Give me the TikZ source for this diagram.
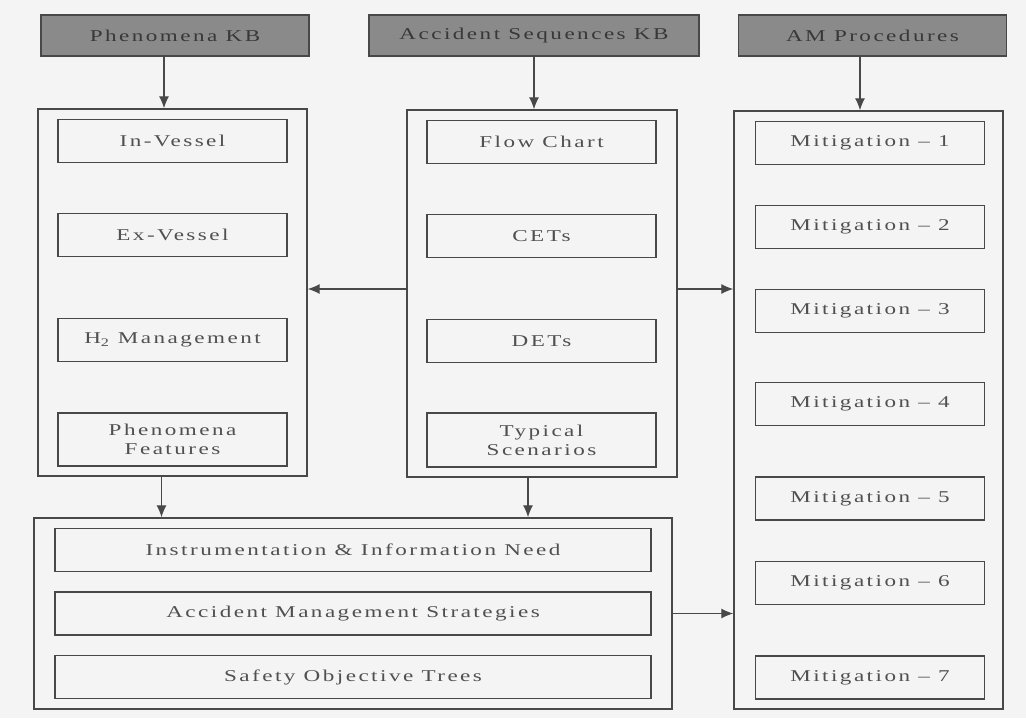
\documentclass[tikz,border=0pt]{standalone}
\usepackage{fontspec}
\setmainfont[FakeStretch=1.4,LetterSpace=15]{Liberation Serif}
\usetikzlibrary{arrows.meta,calc,positioning}
\definecolor{ScanPaper}{RGB}{244,244,244}
\definecolor{ScanLine}{RGB}{72,72,72}
\definecolor{ScanHead}{RGB}{138,138,138}
\definecolor{ScanText}{RGB}{80,80,80}

\begin{document}
\begin{tikzpicture}[x=1pt, y=-1pt, >={Latex[length=12pt,width=10pt]}, font=\fontsize{16.5}{19}\selectfont]
    \tikzstyle{kb}=[draw=ScanLine, line width=1.2pt, fill=ScanHead, text=ScanText!70!black, minimum width=268pt, minimum height=41pt, inner sep=0pt]
    \tikzstyle{group}=[draw=ScanLine, line width=1.4pt, inner sep=0pt]
    \tikzstyle{item}=[draw=ScanLine, line width=1.4pt, text=ScanText, minimum width=229pt, minimum height=43pt, inner sep=0pt, align=center]
    \tikzstyle{link}=[->, draw=ScanLine, line width=1.2pt]
    \fill[ScanPaper] (0,0) rectangle (1026,718);
    \useasboundingbox (0,0) rectangle (1026,718);

    % knowledge bases on top
    \node[kb] (phenkb) at (175,35.5) {Phenomena KB};
    \node[kb, minimum width=330pt] (seqkb) at (534,35.5) {Accident Sequences KB};
    \node[kb] (amproc) at (872.5,35.5) {AM Procedures};

    % outer frames
    \node[group, minimum width=269pt, minimum height=367pt] (phen) at (172.5,292.5) {};
    \node[group, minimum width=270pt, minimum height=367pt] (seq) at (542,293.5) {};
    \node[group, minimum width=269pt, minimum height=598pt] (proc) at (868.5,410) {};
    \node[group, minimum width=638pt, minimum height=191pt] (base) at (353,613.5) {};

    \node[item] (invessel) at (172.5,141) {In-Vessel};
    \node[item] (exvessel) at (172.5,235) {Ex-Vessel};
    \node[item] (htwo) at (172.5,340) {H\textsubscript{2} Management};
    \node[item, minimum height=53pt] (phenfeat) at (172.5,439.5) {Phenomena\\Features};

    \node[item] (flow) at (541.5,142) {Flow Chart};
    \node[item] (cets) at (541.5,236) {CETs};
    \node[item] (dets) at (541.5,341) {DETs};
    \node[item, minimum height=54pt] (typical) at (541.5,440) {Typical\\Scenarios};

    \foreach \k/\y in {1/143,2/227,3/311,4/404,5/498.5,6/583,7/677.5}
        \node[item] (mitig\k) at (870,\y) {Mitigation -- \k};

    \node[item, minimum width=596pt] (instr) at (353,550) {Instrumentation \& Information Need};
    \node[item, minimum width=596pt] (amstrat) at (353,613.5) {Accident Management Strategies};
    \node[item, minimum width=596pt] (sotree) at (353,677) {Safety Objective Trees};

    % links
    \draw[link] ([xshift=-11pt]phenkb.south) -- ([xshift=-11pt]phenkb.south |- phen.north);
    \draw[link] (seqkb.south) -- (seqkb.south |- seq.north);
    \draw[link] ([xshift=-12.5pt]amproc.south) -- ([xshift=-12.5pt]amproc.south |- proc.north);
    \draw[link] ([xshift=-11pt]phen.south) -- ([xshift=-11pt]phen.south |- base.north);
    \draw[link] ([xshift=-14pt]seq.south) -- ([xshift=-14pt]seq.south |- base.north);
    \draw[link] ([yshift=4.5pt]seq.west) -- ([yshift=4.5pt]seq.west -| phen.east);
    \draw[link] ([yshift=4.5pt]seq.east) -- ([yshift=4.5pt]seq.east -| proc.west);
    \draw[link] (base.east) -- (base.east -| proc.west);
\end{tikzpicture}
\end{document}
